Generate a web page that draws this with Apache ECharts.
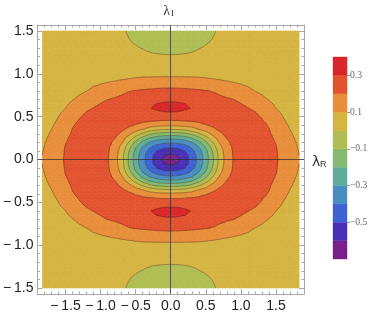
<!DOCTYPE html>
<html><head><meta charset="utf-8">
<script src="https://cdn.jsdelivr.net/npm/echarts@6/dist/echarts.min.js"></script>
<style>html,body{margin:0;padding:0;background:#fff}#c{width:374px;height:316px}</style>
</head><body><div id="c"></div>
<script>
// sample positions of the field (λR horizontally, λI vertically)
const xs = [-1.83,-1.7,-1.6,-1.5,-1.4,-1.3,-1.2,-1.1,-1.0,-0.9,-0.8,-0.7,-0.6,-0.5,-0.4,-0.3,-0.2,-0.1,0,0.1,0.2,0.3,0.4,0.5,0.6,0.7,0.8,0.9,1.0,1.1,1.2,1.3,1.4,1.5,1.6,1.7,1.83];
const ys = [-1.5,-1.4,-1.3,-1.2,-1.1,-1.0,-0.9,-0.8,-0.7,-0.65,-0.6,-0.55,-0.5,-0.45,-0.4,-0.35,-0.3,-0.25,-0.2,-0.15,-0.1,-0.05,0,0.05,0.1,0.15,0.2,0.25,0.3,0.35,0.4,0.45,0.5,0.55,0.6,0.65,0.7,0.8,0.9,1.0,1.1,1.2,1.3,1.4,1.5];
// field values, in thousandths; one row per ys entry (bottom to top)
const fieldMilli = [
[35,36,36,36,36,35,34,32,29,25,18,9,-6,-20,-30,-38,-45,-49,-50,-49,-45,-38,-30,-20,-6,9,18,25,29,32,34,35,36,36,36,36,35],
[36,37,38,38,38,38,37,36,34,30,24,15,2,-10,-20,-30,-37,-41,-42,-41,-37,-30,-20,-10,2,15,24,30,34,36,37,38,38,38,38,37,36],
[37,39,40,41,42,42,42,41,40,38,33,26,16,6,-2,-13,-20,-24,-25,-24,-20,-13,-2,6,16,26,33,38,40,41,42,42,42,41,40,39,37],
[38,41,43,44,45,46,47,47,47,46,44,40,34,28,22,15,11,9,8,9,11,15,22,28,34,40,44,46,47,47,47,46,45,44,43,41,38],
[39,44,46,48,50,51,52,53,54,55,55,55,54,52,50,48,47,46,45,46,47,48,50,52,54,55,55,55,54,53,52,51,50,48,46,44,39],
[40,47,51,54,56,59,61,63,65,67,69,71,74,77,79,80,80,80,80,80,80,80,79,77,74,71,69,67,65,63,61,59,56,54,51,47,40],
[41,50,56,60,64,70,76,84,92,100,106,113,120,128,134,136,138,139,140,139,138,136,134,128,120,113,106,100,92,84,76,70,64,60,56,50,41],
[42,53,62,68,75,85,100,118,136,150,164,179,196,205,213,219,226,230,232,230,226,219,213,205,196,179,164,150,136,118,100,85,75,68,62,53,42],
[45,58,74,82,97,118,143,162,182,200,210,222,234,244,253,261,274,283,286,283,274,261,253,244,234,222,210,200,182,162,143,118,97,82,74,58,45],
[47,61,79,90,113,137,164,184,202,213,224,238,252,262,272,282,301,309,314,309,301,282,272,262,252,238,224,213,202,184,164,137,113,90,79,61,47],
[49,65,85,100,129,157,185,202,214,226,238,254,268,279,290,297,310,322,327,322,310,297,290,279,268,254,238,226,214,202,185,157,129,100,85,65,49],
[51,69,92,112,145,176,203,212,225,239,252,269,282,280,278,279,287,295,297,295,287,279,278,280,282,269,252,239,225,212,203,176,145,112,92,69,51],
[54,74,100,126,161,196,211,221,236,251,264,278,271,261,253,248,248,251,253,251,248,248,253,261,271,278,264,251,236,221,211,196,161,126,100,74,54],
[57,80,111,141,178,206,221,236,250,264,276,266,249,231,217,206,199,193,192,193,199,206,217,231,249,266,276,264,250,236,221,206,178,141,111,80,57],
[61,90,124,154,195,214,230,245,260,274,268,247,220,192,162,140,126,120,119,120,126,140,162,192,220,247,268,274,260,245,230,214,195,154,124,90,61],
[66,100,135,166,203,221,238,255,270,266,249,217,174,132,96,47,17,3,-2,3,17,47,96,132,174,217,249,266,270,255,238,221,203,166,135,100,66],
[72,110,146,177,209,228,246,263,270,252,228,180,125,55,-20,-83,-122,-141,-145,-141,-122,-83,-20,55,125,180,228,252,270,263,246,228,209,177,146,110,72],
[79,119,156,189,215,234,252,268,262,238,203,142,64,-40,-132,-205,-250,-271,-276,-271,-250,-205,-132,-40,64,142,203,238,262,268,252,234,215,189,156,119,79],
[86,128,163,197,219,238,256,270,255,226,181,112,-2,-125,-226,-307,-355,-379,-384,-379,-355,-307,-226,-125,-2,112,181,226,255,270,256,238,219,197,163,128,86],
[92,134,169,203,222,241,259,268,249,218,161,77,-55,-187,-300,-380,-436,-467,-475,-467,-436,-380,-300,-187,-55,77,161,218,249,268,259,241,222,203,169,134,92],
[97,142,175,205,225,244,261,266,246,213,150,54,-92,-226,-341,-431,-502,-549,-559,-549,-502,-431,-341,-226,-92,54,150,213,246,266,261,244,225,205,175,142,97],
[100,145,178,207,227,245,263,265,243,210,145,42,-108,-247,-364,-457,-545,-598,-612,-598,-545,-457,-364,-247,-108,42,145,210,243,265,263,245,227,207,178,145,100],
[103,147,180,208,227,246,263,265,243,210,143,39,-111,-251,-368,-463,-554,-611,-630,-611,-554,-463,-368,-251,-111,39,143,210,243,265,263,246,227,208,180,147,103],
[100,145,178,207,227,245,263,265,243,210,145,42,-108,-247,-364,-457,-545,-598,-612,-598,-545,-457,-364,-247,-108,42,145,210,243,265,263,245,227,207,178,145,100],
[97,142,175,205,225,244,261,266,246,213,150,54,-92,-226,-341,-431,-502,-549,-559,-549,-502,-431,-341,-226,-92,54,150,213,246,266,261,244,225,205,175,142,97],
[92,134,169,203,222,241,259,268,249,218,161,77,-55,-187,-300,-380,-436,-467,-475,-467,-436,-380,-300,-187,-55,77,161,218,249,268,259,241,222,203,169,134,92],
[86,128,163,197,219,238,256,270,255,226,181,112,-2,-125,-226,-307,-355,-379,-384,-379,-355,-307,-226,-125,-2,112,181,226,255,270,256,238,219,197,163,128,86],
[79,119,156,189,215,234,252,268,262,238,203,142,64,-40,-132,-205,-250,-271,-276,-271,-250,-205,-132,-40,64,142,203,238,262,268,252,234,215,189,156,119,79],
[72,110,146,177,209,228,246,263,270,252,228,180,125,55,-20,-83,-122,-141,-145,-141,-122,-83,-20,55,125,180,228,252,270,263,246,228,209,177,146,110,72],
[66,100,135,166,203,221,238,255,270,266,249,217,174,132,96,47,17,3,-2,3,17,47,96,132,174,217,249,266,270,255,238,221,203,166,135,100,66],
[61,90,124,154,195,214,230,245,260,274,268,247,220,192,162,140,126,120,119,120,126,140,162,192,220,247,268,274,260,245,230,214,195,154,124,90,61],
[57,80,111,141,178,206,221,236,250,264,276,266,249,231,217,206,199,193,192,193,199,206,217,231,249,266,276,264,250,236,221,206,178,141,111,80,57],
[54,74,100,126,161,196,211,221,236,251,264,278,271,261,253,248,248,251,253,251,248,248,253,261,271,278,264,251,236,221,211,196,161,126,100,74,54],
[51,69,92,112,145,176,203,212,225,239,252,269,282,280,278,279,287,295,297,295,287,279,278,280,282,269,252,239,225,212,203,176,145,112,92,69,51],
[49,65,85,100,129,157,185,202,214,226,238,254,268,279,290,297,310,322,327,322,310,297,290,279,268,254,238,226,214,202,185,157,129,100,85,65,49],
[47,61,79,90,113,137,164,184,202,213,224,238,252,262,272,282,301,309,314,309,301,282,272,262,252,238,224,213,202,184,164,137,113,90,79,61,47],
[45,58,74,82,97,118,143,162,182,200,210,222,234,244,253,261,274,283,286,283,274,261,253,244,234,222,210,200,182,162,143,118,97,82,74,58,45],
[42,53,62,68,75,85,100,118,136,150,164,179,196,205,213,219,226,230,232,230,226,219,213,205,196,179,164,150,136,118,100,85,75,68,62,53,42],
[41,50,56,60,64,70,76,84,92,100,106,113,120,128,134,136,138,139,140,139,138,136,134,128,120,113,106,100,92,84,76,70,64,60,56,50,41],
[40,47,51,54,56,59,61,63,65,67,69,71,74,77,79,80,80,80,80,80,80,80,79,77,74,71,69,67,65,63,61,59,56,54,51,47,40],
[39,44,46,48,50,51,52,53,54,55,55,55,54,52,50,48,47,46,45,46,47,48,50,52,54,55,55,55,54,53,52,51,50,48,46,44,39],
[38,41,43,44,45,46,47,47,47,46,44,40,34,28,22,15,11,9,8,9,11,15,22,28,34,40,44,46,47,47,47,46,45,44,43,41,38],
[37,39,40,41,42,42,42,41,40,38,33,26,16,6,-2,-13,-20,-24,-25,-24,-20,-13,-2,6,16,26,33,38,40,41,42,42,42,41,40,39,37],
[36,37,38,38,38,38,37,36,34,30,24,15,2,-10,-20,-30,-37,-41,-42,-41,-37,-30,-20,-10,2,15,24,30,34,36,37,38,38,38,38,37,36],
[35,36,36,36,36,35,34,32,29,25,18,9,-6,-20,-30,-38,-45,-49,-50,-49,-45,-38,-30,-20,-6,9,18,25,29,32,34,35,36,36,36,36,35]
];
const contourLevels = [-0.6,-0.5,-0.4,-0.3,-0.2,-0.1,0,0.1,0.2,0.3];
const colorbarMin = -0.7, colorbarMax = 0.4;
const bandColors = ['#79208b','#4a2db6','#3e61d4','#4a8dc2','#5fac9a','#86b971','#afbd52','#d5b442','#e88e3b','#e2522e','#da2628'];
const xTickValues = [-1.5,-1,-0.5,0,0.5,1,1.5];
const xTickLabels = ['\u2212\u20091.5','\u2212\u20091.0','\u2212\u20090.5','0.0','0.5','1.0','1.5'];
const yTickValues = [-1.5,-1,-0.5,0,0.5,1,1.5];
const yTickLabels = ['\u2212\u20091.5','\u2212\u20091.0','\u2212\u20090.5','0.0','0.5','1.0','1.5'];
const xMinorTicks = [-1.8,-1.7,-1.6,-1.5,-1.4,-1.3,-1.2,-1.1,-1.0,-0.9,-0.8,-0.7,-0.6,-0.5,-0.4,-0.3,-0.2,-0.1,0,0.1,0.2,0.3,0.4,0.5,0.6,0.7,0.8,0.9,1.0,1.1,1.2,1.3,1.4,1.5,1.6,1.7,1.8];
const yMinorTicks = [-1.5,-1.4,-1.3,-1.2,-1.1,-1.0,-0.9,-0.8,-0.7,-0.6,-0.5,-0.4,-0.3,-0.2,-0.1,0,0.1,0.2,0.3,0.4,0.5,0.6,0.7,0.8,0.9,1.0,1.1,1.2,1.3,1.4,1.5];
const barTickValues = [0.3,0.1,-0.1,-0.3,-0.5];
const barTickLabels = ['0.3','0.1','\u22120.1','\u22120.3','\u22120.5'];

const frameColor = '#a8a8a8';
const contourColor = 'rgba(40,20,10,0.42)';
const originLineColor = 'rgba(45,45,45,0.78)';

function labelFor(vals, labels, v){
  for (let k = 0; k < vals.length; k++) if (Math.abs(vals[k] - v) < 1e-6) return labels[k];
  return '';
}

const nx = xs.length, ny = ys.length;
const cells = [];
for (let j = 0; j < ny - 1; j++) for (let i = 0; i < nx - 1; i++) cells.push([(xs[i]+xs[i+1])/2, (ys[j]+ys[j+1])/2, i, j]);

function corner(api, i, j){ return {p: api.coord([xs[i], ys[j]]), v: fieldMilli[j][i] / 1000}; }
function triangles(api){
  const i = api.value(2), j = api.value(3);
  const a = corner(api,i,j), b = corner(api,i+1,j), c = corner(api,i+1,j+1), d = corner(api,i,j+1);
  const cx = (xs[i]+xs[i+1])/2, cy = (ys[j]+ys[j+1])/2;
  return (cx*cy > 0) ? [[a,b,d],[b,c,d]] : [[a,b,c],[a,c,d]];
}
function clip(poly, level, keepAbove){
  const out = [];
  for (let k = 0; k < poly.length; k++){
    const A = poly[k], B = poly[(k+1) % poly.length];
    const ina = keepAbove ? A.v >= level : A.v < level;
    const inb = keepAbove ? B.v >= level : B.v < level;
    if (ina) out.push(A);
    if (ina !== inb){
      const t = (level - A.v) / (B.v - A.v);
      out.push({p: [A.p[0] + t*(B.p[0]-A.p[0]), A.p[1] + t*(B.p[1]-A.p[1])], v: level});
    }
  }
  return out;
}
function renderFill(params, api){
  const children = [];
  for (const tri of triangles(api)){
    const vmin = Math.min(tri[0].v, tri[1].v, tri[2].v), vmax = Math.max(tri[0].v, tri[1].v, tri[2].v);
    for (let b = 0; b < bandColors.length; b++){
      const lo = b === 0 ? -Infinity : contourLevels[b-1];
      const hi = b === contourLevels.length ? Infinity : contourLevels[b];
      if (vmax < lo || vmin >= hi) continue;
      let poly = tri;
      if (lo > -Infinity) poly = clip(poly, lo, true);
      if (poly.length >= 3 && hi < Infinity) poly = clip(poly, hi, false);
      if (poly.length >= 3) children.push({type:'polygon', shape:{points: poly.map(q => q.p)}, style:{fill: bandColors[b], stroke: bandColors[b], lineWidth: 0.6}});
    }
  }
  return {type:'group', children};
}
function renderLines(params, api){
  const children = [];
  for (const tri of triangles(api)){
    for (const L of contourLevels){
      const pts = [];
      for (let k = 0; k < 3; k++){
        const A = tri[k], B = tri[(k+1) % 3];
        if ((A.v >= L) !== (B.v >= L)){
          const t = (L - A.v) / (B.v - A.v);
          pts.push([A.p[0] + t*(B.p[0]-A.p[0]), A.p[1] + t*(B.p[1]-A.p[1])]);
        }
      }
      if (pts.length === 2) children.push({type:'line', shape:{x1:pts[0][0], y1:pts[0][1], x2:pts[1][0], y2:pts[1][1]}, style:{stroke: contourColor, lineWidth: 0.8}});
    }
  }
  return {type:'group', children};
}

// colour bar bands
const barBands = [];
barBands.push([colorbarMin, contourLevels[0], 0]);
for (let k = 0; k < contourLevels.length - 1; k++) barBands.push([contourLevels[k], contourLevels[k+1], k+1]);
barBands.push([contourLevels[contourLevels.length-1], colorbarMax, contourLevels.length]);

function renderBar(params, api){
  const lo = api.value(0), hi = api.value(1), ci = api.value(2);
  const p1 = api.coord([0, hi]), p2 = api.coord([1, lo]);
  return {type:'rect', shape:{x:p1[0], y:p1[1], width:p2[0]-p1[0], height:p2[1]-p1[1]}, style:{fill: bandColors[ci], stroke: bandColors[ci], lineWidth: 0.4}};
}

const XR = [-1.9, 1.9], YR = [-1.57, 1.57];
const tickFont = {color:'#222', fontSize:14, fontFamily:'Liberation Sans'};
function frameAxis(dim, pos, major, withLabels){
  const vals = major ? (dim === 'x' ? xTickValues : yTickValues) : (dim === 'x' ? xMinorTicks : yMinorTicks);
  const ax = {
    gridIndex: 0, type: 'value', position: pos,
    min: dim === 'x' ? XR[0] : YR[0], max: dim === 'x' ? XR[1] : YR[1],
    axisLine: {show: major, onZero: false, lineStyle: {color: frameColor, width: 1}},
    axisTick: {show: true, inside: true, length: major ? 5 : 2.5, customValues: vals, lineStyle: {color: frameColor, width: 1}},
    axisLabel: {show: false},
    splitLine: {show: false}
  };
  if (withLabels){
    ax.axisLabel = Object.assign({show: true, customValues: vals, margin: dim === 'x' ? 5 : 4,
      formatter: v => dim === 'x' ? labelFor(xTickValues, xTickLabels, v) : labelFor(yTickValues, yTickLabels, v)}, tickFont);
  }
  return ax;
}

const chart = echarts.init(document.getElementById('c'), null, {renderer: 'canvas'});
chart.setOption({
  animation: false,
  grid: [
    {left: 34, right: 70, top: 25, bottom: 22, containLabel: false},
    {left: 333, width: 14, top: 57, height: 202, containLabel: false}
  ],
  xAxis: [
    frameAxis('x', 'bottom', true, true),
    frameAxis('x', 'bottom', false, false),
    frameAxis('x', 'top', true, false),
    frameAxis('x', 'top', false, false),
    {gridIndex: 1, type: 'value', min: 0, max: 1, show: false}
  ],
  yAxis: [
    frameAxis('y', 'left', true, true),
    frameAxis('y', 'left', false, false),
    frameAxis('y', 'right', true, false),
    frameAxis('y', 'right', false, false),
    {gridIndex: 1, type: 'value', position: 'right', min: colorbarMin, max: colorbarMax,
     axisLine: {show: false, onZero: false},
     axisTick: {show: true, length: 3, customValues: barTickValues, lineStyle: {color: '#999'}},
     axisLabel: {show: true, customValues: barTickValues, margin: 3, color: '#666', fontSize: 9.5, fontFamily: 'Liberation Serif',
       formatter: v => labelFor(barTickValues, barTickLabels, v)},
     splitLine: {show: false}}
  ],
  series: [
    {type: 'custom', name: 'bands', xAxisIndex: 0, yAxisIndex: 0, data: cells, encode: {x: 0, y: 1}, renderItem: renderFill, silent: true, progressive: 0, z: 1},
    {type: 'custom', name: 'contours', xAxisIndex: 0, yAxisIndex: 0, data: cells, encode: {x: 0, y: 1}, renderItem: renderLines, silent: true, progressive: 0, z: 2},
    {type: 'line', name: 'axes', xAxisIndex: 0, yAxisIndex: 0, data: [[0, 0]], showSymbol: false, symbol: 'none', lineStyle: {width: 0}, silent: true, z: 3,
     markLine: {symbol: 'none', silent: true, animation: false, label: {show: false},
       lineStyle: {color: originLineColor, width: 0.9, type: 'solid'},
       data: [
         [{coord: [0, YR[0]]}, {coord: [0, YR[1]]}],
         [{coord: [XR[0], 0]}, {coord: [XR[1], 0]}]
       ]}},
    {type: 'custom', name: 'colorbar', xAxisIndex: 4, yAxisIndex: 4, data: barBands, encode: {x: 2, y: [0, 1]}, renderItem: renderBar, silent: true, z: 1}
  ]
});

const pTop = chart.convertToPixel({gridIndex: 0}, [0, YR[1]]);
const pRight = chart.convertToPixel({gridIndex: 0}, [XR[1], 0]);
chart.setOption({graphic: [
  {type: 'text', x: pTop[0] - 7.5, y: pTop[1] - 13.5, style: {text: 'λ', fontSize: 14, fontFamily: 'Liberation Serif', fill: '#333', align: 'left', verticalAlign: 'middle'}},
  {type: 'text', x: pTop[0] + 0.3, y: pTop[1] - 11, style: {text: 'I', fontSize: 9, fontFamily: 'Liberation Serif', fill: '#333', align: 'left', verticalAlign: 'middle'}},
  {type: 'text', x: pRight[0] + 8, y: pRight[1] + 2.5, style: {text: 'λ', fontSize: 14, fontFamily: 'DejaVu Sans', fill: '#333', align: 'left', verticalAlign: 'middle'}},
  {type: 'text', x: pRight[0] + 16, y: pRight[1] + 5, style: {text: 'R', fontSize: 9, fontFamily: 'Liberation Sans', fill: '#333', align: 'left', verticalAlign: 'middle'}}
]});
</script>
</body></html>
